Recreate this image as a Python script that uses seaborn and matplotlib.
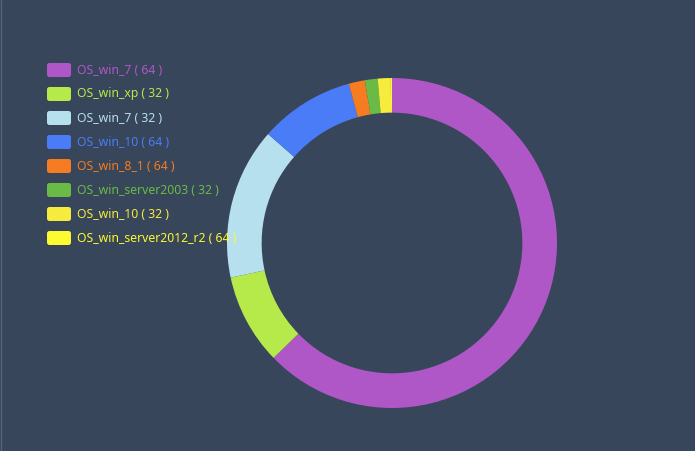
import matplotlib
matplotlib.use("Agg")
import matplotlib.pyplot as plt
import seaborn as sns
from matplotlib.patches import FancyBboxPatch

# data
labels = ["OS_win_7", "OS_win_xp", "OS_win_7", "OS_win_10", "OS_win_8_1",
          "OS_win_server2003", "OS_win_10", "OS_win_server2012_r2"]
legend_counts = [64, 32, 32, 64, 64, 32, 32, 64]
slice_values = [226, 32, 53.5, 33.5, 5.7, 4.5, 4.6, 0.4]
colors = ["#b057c8", "#b6ea4a", "#b7e0ee", "#4b7cf8", "#f57c20",
          "#6abb45", "#f5ec3d", "#fcfa30"]

bg = "#37465a"

sns.set_theme(style="white")
plt.rcParams['font.family'] = ['Noto Sans', 'DejaVu Sans']

fig = plt.figure(figsize=(6.95, 4.51), dpi=100, facecolor=bg)

# donut
W, H = 695, 451
cx, cy, r = 392, 243, 165
ax = fig.add_axes([(cx - r) / W, (H - cy - r) / H, 2 * r / W, 2 * r / H])
ax.set_facecolor(bg)
ax.pie(slice_values, colors=colors, startangle=90, counterclock=False,
       radius=1, wedgeprops=dict(width=0.21, linewidth=0))
ax.set_xlim(-1, 1)
ax.set_ylim(-1, 1)
ax.set_aspect("equal")
ax.axis("off")

# overlay axes in pixel coordinates for the legend (drawn above the ring)
lax = fig.add_axes([0, 0, 1, 1], zorder=10)
lax.set_xlim(0, W)
lax.set_ylim(H, 0)
lax.patch.set_alpha(0)
lax.axis("off")

for i, (lab, cnt, col) in enumerate(zip(labels, legend_counts, colors)):
    y = 70 + i * 24
    lax.add_patch(FancyBboxPatch((47, y - 7), 24, 14,
                                 boxstyle="round,pad=0,rounding_size=2.5",
                                 facecolor=col, edgecolor="none"))
    lax.text(77, y, f"{lab} ( {cnt} )", color=col,
             fontsize=8.8, va="center", ha="left")

# faint frame line on the left edge
lax.plot([0.5, 0.5], [0, H], color="#56647a", linewidth=1)

fig.savefig("out.png", dpi=100, facecolor=bg)
